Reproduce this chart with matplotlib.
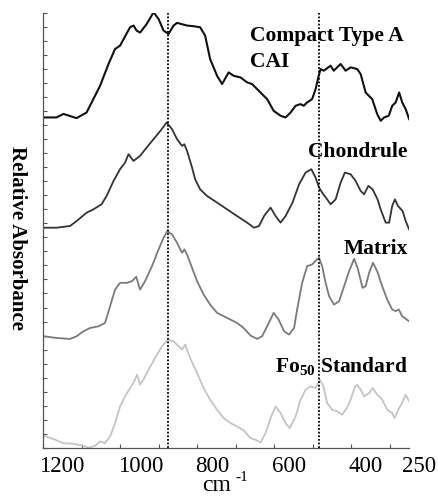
import numpy as np
import matplotlib.pyplot as plt

plt.rcParams["font.family"] = ["Liberation Serif", "DejaVu Serif"]
plt.rcParams["mathtext.fontset"] = "custom"
plt.rcParams["mathtext.rm"] = "Liberation Serif"
plt.rcParams["mathtext.bf"] = "Liberation Serif:bold"

# wavenumber (cm-1) / relative absorbance (stacked, arbitrary units)
cai_wn = [1250, 1216, 1198, 1164, 1138, 1103, 1081, 1064, 1051, 1025, 1016, 1008, 999, 982,
          964, 951, 938, 925, 912, 903, 877, 860, 843, 830, 817, 799, 786, 769, 756, 738,
          721, 708, 695, 678, 669, 652, 634, 621, 608, 595, 582, 574, 565, 552, 543, 535,
          530, 522, 504, 496, 478, 465, 452, 435, 426, 413, 405, 396, 383, 374, 365, 353,
          344, 335, 326, 318, 309, 300]
cai_abs = [23.55, 23.55, 23.8, 23.5, 23.9, 25.8, 27.36, 28.43, 28.67, 29.98, 30.1, 29.74, 29.6, 30.2,
           31.05, 30.57, 29.74, 29.5, 30.1, 30.29, 30.1, 30.05, 29.98, 29.38, 27.71, 26.52, 25.93, 26.76, 26.52, 26.4,
           26.05, 25.93, 25.57, 25.1, 24.86, 24.02, 23.67, 23.55, 23.9, 24.38, 24.5, 24.38, 24.62, 24.86, 25.57, 26.52,
           27.0, 26.88, 27.24, 26.88, 27.36, 26.88, 27.12, 27.0, 26.64, 25.33, 25.1, 24.86, 23.79, 23.31, 23.55, 23.67,
           24.38, 24.62, 25.33, 24.62, 24.14, 23.43]

chon_wn = [1250, 1216, 1181, 1164, 1138, 1120, 1099, 1086, 1068, 1051, 1038, 1029, 1016, 999,
           982, 964, 946, 930, 916, 903, 890, 884, 877, 864, 856, 843, 825, 799, 773, 747,
           721, 703, 690, 677, 660, 647, 634, 621, 603, 586, 569, 554, 543, 534, 526, 513,
           504, 491, 478, 467, 452, 439, 426, 417, 406, 395, 382, 374, 361, 352, 344, 337,
           329, 317, 309, 300]
chon_abs = [15.69, 15.69, 15.81, 16.16, 16.76, 17.0, 17.36, 17.95, 19.02, 19.86, 20.33, 20.93, 20.45, 20.81,
            21.4, 22.0, 22.6, 23.19, 22.71, 22.0, 21.52, 21.64, 21.17, 19.98, 19.14, 18.43, 17.95, 17.48, 17.0, 16.52,
            16.05, 15.69, 15.81, 16.52, 17.12, 16.52, 16.05, 16.52, 17.48, 18.78, 19.62, 19.86, 19.26, 18.55, 18.19, 17.71,
            17.36, 17.71, 18.9, 19.62, 19.5, 19.02, 18.31, 18.07, 18.67, 18.43, 17.71, 17.0, 16.05, 16.05, 17.24, 17.71,
            17.24, 16.88, 16.16, 15.57]

mat_wn = [1250, 1216, 1181, 1164, 1146, 1129, 1107, 1090, 1077, 1064, 1051, 1033, 1020, 1009,
          999, 986, 968, 951, 938, 928, 916, 903, 890, 884, 877, 864, 851, 834, 817, 799,
          773, 747, 730, 712, 695, 682, 669, 652, 639, 625, 612, 599, 591, 578, 565, 552,
          540, 534, 526, 517, 508, 495, 482, 469, 456, 443, 434, 421, 413, 404, 394, 383,
          370, 357, 344, 335, 327, 318, 300]
mat_abs = [7.95, 7.83, 7.76, 7.95, 8.31, 8.54, 8.66, 8.9, 10.09, 11.28, 11.76, 11.76, 11.88, 12.19,
           11.28, 11.88, 12.95, 14.14, 14.97, 15.45, 15.21, 14.62, 13.9, 14.14, 13.78, 12.83, 11.88, 10.93, 10.21, 9.62,
           9.26, 8.9, 8.54, 8.0, 7.76, 7.95, 8.66, 9.62, 9.14, 8.31, 8.07, 8.54, 9.86, 11.76, 12.95, 13.07,
           13.42, 13.54, 12.95, 11.76, 10.81, 10.21, 10.45, 11.52, 12.59, 13.47, 12.83, 11.4, 11.52, 12.47, 13.19, 12.59,
           11.52, 10.57, 9.86, 9.74, 9.86, 9.38, 9.02]

fo_wn = [1250, 1224, 1198, 1172, 1146, 1133, 1116, 1103, 1090, 1077, 1064, 1051, 1038, 1025,
         1016, 1007, 999, 990, 977, 960, 942, 927, 912, 899, 890, 882, 869, 851, 834, 817,
         799, 782, 764, 747, 730, 712, 699, 686, 673, 660, 647, 634, 621, 610, 595, 582,
         569, 556, 543, 532, 523, 513, 500, 487, 474, 462, 452, 442, 435, 426, 417, 404,
         395, 383, 370, 357, 344, 338, 326, 318, 309, 300]
fo_abs = [0.86, 0.62, 0.33, 0.29, 0.14, 0.0, 0.14, 0.45, 0.33, 0.81, 1.76, 2.95, 3.67, 4.26,
          4.62, 5.21, 4.5, 4.86, 5.57, 6.4, 7.24, 7.71, 7.6, 7.24, 7.0, 7.36, 6.4, 5.33, 4.26, 3.43,
          2.71, 2.12, 1.76, 1.52, 1.24, 0.69, 0.57, 0.38, 1.05, 2.12, 2.95, 2.48, 1.76, 1.4, 2.24, 3.43,
          4.14, 4.38, 4.26, 4.86, 4.38, 3.19, 2.71, 2.6, 2.36, 2.83, 3.43, 4.26, 4.5, 4.14, 3.67, 3.9,
          4.26, 3.79, 3.43, 2.71, 2.48, 2.12, 2.83, 3.19, 3.79, 3.31]

ref_lines = [927, 535]
tick_marks = [1250, 1150, 1050, 950, 850, 750, 650, 550, 450, 350]
tick_labels = ["1200", "1000", "800", "600", "400", "250"]
# the labels sit a little off the tick marks in the original figure
tick_label_pos = [1203, 996, 811, 611, 413, 273]

fig = plt.figure(figsize=(4.39, 4.97), dpi=100)
ax = fig.add_axes([0.099, 0.099, 0.833, 0.875])

ax.plot(cai_wn, cai_abs, color="#111111", lw=1.5)
ax.plot(chon_wn, chon_abs, color="#333333", lw=1.3)
ax.plot(mat_wn, mat_abs, color="#7a7a7a", lw=1.3)
ax.plot(fo_wn, fo_abs, color="#c4c4c4", lw=1.3)

for x in ref_lines:
    ax.axvline(x, color="black", ls=(0, (1, 1)), lw=1.3)

ax.set_xlim(1250, 300)
ax.set_ylim(0, 31)
ax.set_xticks(tick_marks)
ax.set_xticklabels([])
ax.set_yticks(np.arange(0, 32, 1))
ax.set_yticklabels([])
ax.tick_params(direction="in", length=3, width=0.8, color="#555555")
for s in ["top", "right"]:
    ax.spines[s].set_visible(False)
for s in ["left", "bottom"]:
    ax.spines[s].set_color("#555555")
    ax.spines[s].set_linewidth(0.9)

for pos, lab in zip(tick_label_pos, tick_labels):
    ax.text(pos, -0.019, lab, transform=ax.get_xaxis_transform(), ha="center", va="top",
            fontsize=16.5, clip_on=False)

bold = dict(fontsize=15.5, fontweight="bold")
ax.text(713, 29.36, "Compact Type A", ha="left", va="center", **bold)
ax.text(713, 27.5, "CAI", ha="left", va="center", **bold)
ax.text(304, 21.07, "Chondrule", ha="right", va="center", **bold)
ax.text(304, 14.14, "Matrix", ha="right", va="center", **bold)
ax.text(304, 5.79, r"Fo$_{\mathbf{50}}$ Standard", ha="right", va="center", **bold)

# axis title: "cm" with a small raised "-1"
fig.text(217 / 439, 1 - 491 / 497, "cm", ha="center", va="baseline", fontsize=17)
fig.text(235 / 439, 1 - 481 / 497, "-1", ha="left", va="baseline", fontsize=11)
fig.text(17 / 439, 1 - 238 / 497, "Relative Absorbance", rotation=-90, ha="center", va="center",
         fontsize=15, fontweight="bold")

fig.savefig("out.png", dpi=100)
